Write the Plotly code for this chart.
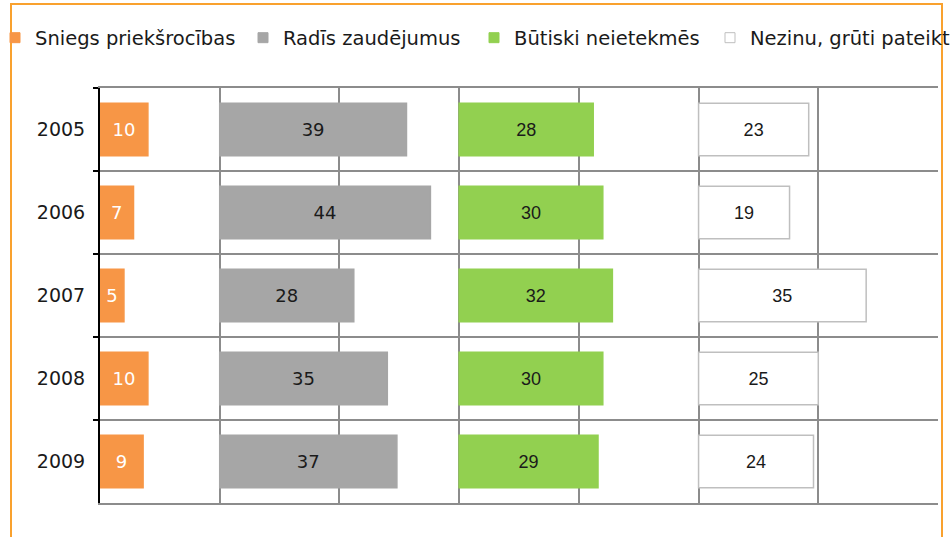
import plotly.graph_objects as go

years = ["2005", "2006", "2007", "2008", "2009"]
series_names = ["Sniegs priekšrocības", "Radīs zaudējumus", "Būtiski neietekmēs", "Nezinu, grūti pateikt"]
sniegs = [10, 7, 5, 10, 9]
radis = [39, 44, 28, 35, 37]
butiski = [28, 30, 32, 30, 29]
nezinu = [23, 19, 35, 25, 24]

# panel offsets on the shared value axis (each grid step = 25)
offsets = [0, 25, 75, 125]
fills = ["#F79646", "#A6A6A6", "#92D050", "#FFFFFF"]
outlines = ["#F79646", "#A6A6A6", "#92D050", "#BFBFBF"]
label_colors = ["#FFFFFF", "#1A1A1A", "#1A1A1A", "#1A1A1A"]
label_fonts = ["DejaVu Sans", "DejaVu Sans", "Liberation Sans", "Liberation Sans"]
legend_ids = ["legend", "legend2", "legend3", "legend4"]
legend_left_px = [-5, 243, 474, 710]

W, H = 951, 537
ML, MR, MT, MB = 100, 13, 88, 34
PW, PH = W - ML - MR, H - MT - MB

fig = go.Figure()
for name, vals, off, fc, lc, tc, tf, lid in zip(series_names, [sniegs, radis, butiski, nezinu],
                                                offsets, fills, outlines, label_colors,
                                                label_fonts, legend_ids):
    fig.add_trace(go.Bar(
        y=years, x=vals, base=off, orientation="h", name=name,
        marker=dict(color=fc, line=dict(color=lc, width=1.5)),
        width=0.63,
        text=[str(v) for v in vals], textposition="inside", insidetextanchor="middle",
        textangle=0, textfont=dict(family=tf, size=18, color=tc),
        constraintext="none", showlegend=False,
    ))
    fig.add_trace(go.Scatter(
        x=[None], y=[None], mode="markers", name=name, legend=lid,
        marker=dict(symbol="square", size=10, color=fc, line=dict(color=lc, width=1)),
    ))

legend_common = dict(orientation="h", xref="paper", yref="paper",
                     xanchor="left", y=1 + (MT - 38) / PH, yanchor="middle",
                     font=dict(family="DejaVu Sans", size=19.5, color="#1A1A1A"),
                     bgcolor="rgba(0,0,0,0)", itemclick=False)
legends = {lid: dict(legend_common, x=(px - ML) / PW) for lid, px in zip(legend_ids, legend_left_px)}

fig.update_layout(
    width=W, height=H,
    margin=dict(l=ML, r=MR, t=MT, b=MB, autoexpand=False),
    paper_bgcolor="white", plot_bgcolor="white",
    barmode="overlay",
    font=dict(family="DejaVu Sans", size=19, color="#1A1A1A"),
    showlegend=True,
    xaxis=dict(range=[0, 175], tick0=0, dtick=25, showticklabels=False, ticks="",
               showgrid=True, gridcolor="#8C8C8C", gridwidth=1.5, zeroline=False,
               showline=True, linecolor="#8C8C8C", linewidth=1.5, mirror=True),
    yaxis=dict(type="category", categoryorder="array", categoryarray=years,
               autorange="reversed", tickson="boundaries", ticks="outside",
               ticklen=5, tickwidth=1.5, tickcolor="black",
               showline=True, linecolor="black", linewidth=2, mirror=False,
               showgrid=True, gridcolor="#8C8C8C", gridwidth=1.5,
               ticklabelstandoff=9, tickfont=dict(size=19)),
    shapes=[dict(type="rect", xref="paper", yref="paper",
                 x0=(11 - ML) / PW, x1=(942 - ML) / PW,
                 y0=-0.3, y1=1 + (MT - 4) / PH,
                 line=dict(color="#F9A12E", width=2), fillcolor="rgba(0,0,0,0)",
                 layer="below")],
    **legends,
)

fig.write_html("out.html", config={"displayModeBar": False},
               post_script="document.body.style.margin='0';")
